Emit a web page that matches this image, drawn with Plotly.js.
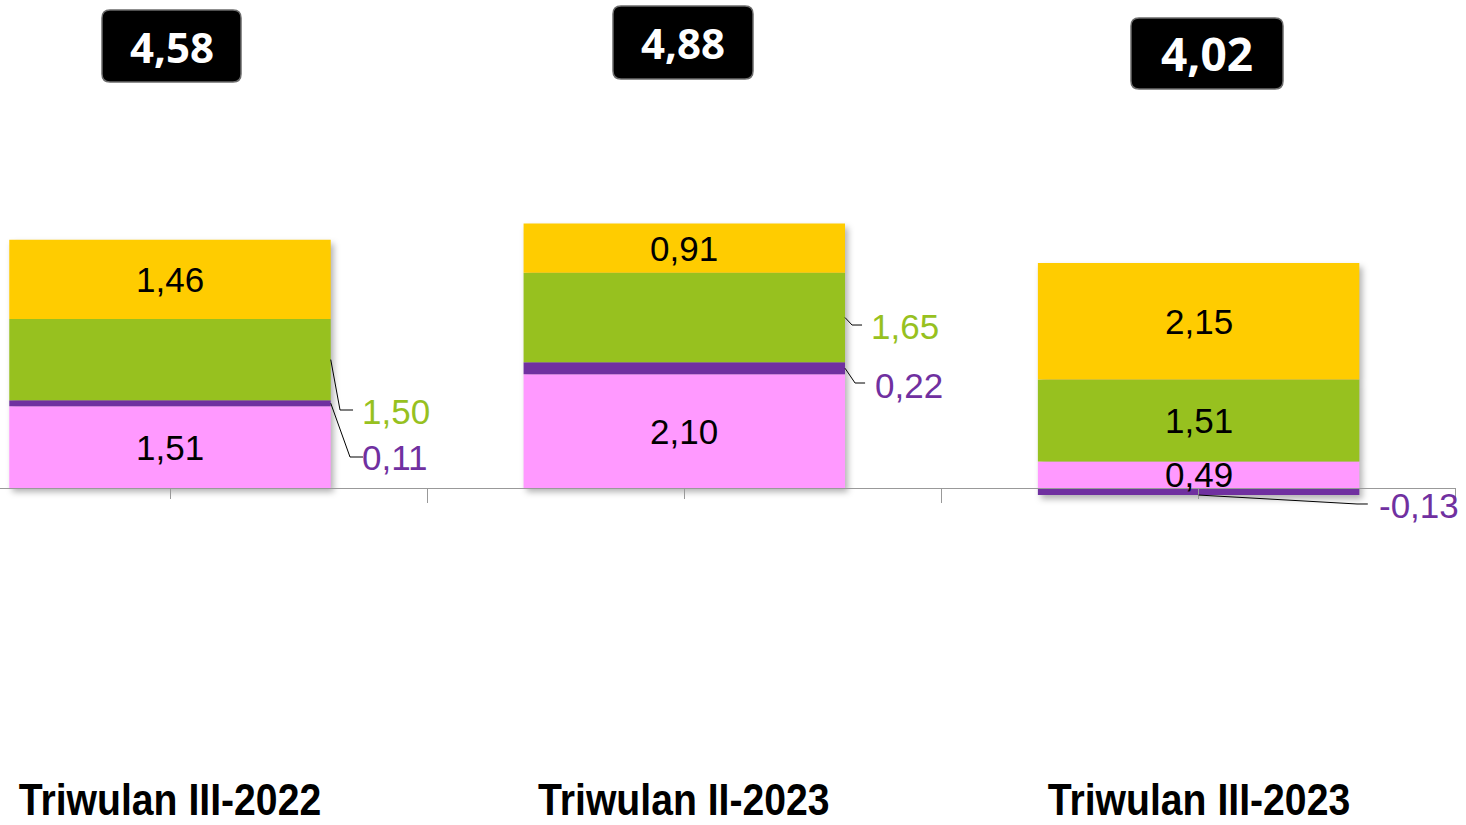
<!DOCTYPE html>
<html>
<head>
<meta charset="utf-8">
<script src="https://cdn.plot.ly/plotly-3.0.1.min.js"></script>
<style>
  html, body { margin: 0; padding: 0; background: #fff; }
  #chart { width: 1466px; height: 825px; }
  .barlayer { filter: drop-shadow(3px 4px 3px rgba(0,0,0,0.30)); }
</style>
</head>
<body>
<div id="chart"></div>
<script>
// ---- data ----
const categories = ["Triwulan III-2022", "Triwulan II-2023", "Triwulan III-2023"];
const pinkValues   = [1.51, 2.10, 0.49];
const purpleValues = [0.11, 0.22, -0.13];
const greenValues  = [1.50, 1.65, 1.51];
const yellowValues = [1.46, 0.91, 2.15];
const totals       = [4.58, 4.88, 4.02];

// ---- styling ----
const COL_PINK = "#FF99FF", COL_PURPLE = "#7030A0", COL_GREEN = "#97C11F", COL_YELLOW = "#FFCC00";
const W = 1466, H = 825, MR = 10, PW = W - MR;
const ZERO_PX = 488, PX_PER_UNIT = 54.2, CAT0_PX = 170, PX_PER_CAT = 514.3;
const yTop = ZERO_PX / PX_PER_UNIT, yBot = -(H - ZERO_PX) / PX_PER_UNIT;
const xLeft = -CAT0_PX / PX_PER_CAT, xRight = (PW - CAT0_PX) / PX_PER_CAT;
const BAR_W = 0.625;
const fmt = v => v.toFixed(2).replace('.', ',');
const xs = categories.map((c, i) => i);

const series = [
  {name: "pink", vals: pinkValues, color: COL_PINK},
  {name: "purple", vals: purpleValues, color: COL_PURPLE},
  {name: "green", vals: greenValues, color: COL_GREEN},
  {name: "yellow", vals: yellowValues, color: COL_YELLOW}
];

const traces = series.map(s => ({
  type: "bar", x: xs, y: s.vals, name: s.name, width: BAR_W,
  marker: {color: s.color, line: {width: 0}}, hoverinfo: "skip"
}));

// stacked midpoints (relative mode: positives stack upward, negatives downward)
const mids = series.map(() => []);
const bottoms = series.map(() => []);
xs.forEach(i => {
  let pos = 0, neg = 0;
  series.forEach((s, k) => {
    const v = s.vals[i];
    if (v >= 0) { mids[k][i] = pos + v / 2; bottoms[k][i] = pos; pos += v; }
    else { mids[k][i] = neg + v / 2; bottoms[k][i] = neg + v; neg += v; }
  });
});

const annotations = [];
const shapes = [];
const insideFont = {family: "Liberation Sans, Arial, sans-serif", size: 35, color: "#000"};
// outside (leader-line) labels: [seriesIndex, category, labelX, labelY, elbowX, elbowY, endX]
const outsideLabels = [
  [2, 0, 0.369, 1.42, 0.3306, 1.439, 0.3559],
  [1, 0, 0.369, 0.554, 0.3500, 0.572, 0.3753],
  [2, 1, 1.359, 2.989, 1.3262, 3.007, 1.3456],
  [1, 1, 1.367, 1.900, 1.3320, 1.937, 1.3515],
  [1, 2, 2.346, -0.314, 2.3080, -0.295, 2.3290]
];
const outsideSet = new Set(outsideLabels.map(o => o[0] + "_" + o[1]));

series.forEach((s, k) => {
  xs.forEach(i => {
    if (outsideSet.has(k + "_" + i)) return;
    annotations.push({x: i, y: mids[k][i], xref: "x", yref: "y", text: fmt(s.vals[i]),
      showarrow: false, font: insideFont, xanchor: "center", yanchor: "middle"});
  });
});

outsideLabels.forEach(([k, i, lx, ly, ex, ey, endx]) => {
  const s = series[k];
  const v = s.vals[i];
  const sx = v >= 0 ? i + BAR_W / 2 : i;
  const sy = v >= 0 ? mids[k][i] : bottoms[k][i];
  shapes.push({type: "path", xref: "x", yref: "y",
    path: `M ${sx} ${sy} L ${ex} ${ey} L ${endx} ${ey}`,
    line: {color: "#000", width: 1}, layer: "above"});
  annotations.push({x: lx, y: ly, xref: "x", yref: "y", text: fmt(v), showarrow: false,
    font: {family: "Liberation Sans, Arial, sans-serif", size: 35, color: s.color},
    xanchor: "left", yanchor: "middle"});
});

// total label boxes (pixel boxes -> paper coords), rounded
const totalBoxes = [[102, 10, 241, 82, 42], [613, 6, 753, 79, 42], [1131, 18, 1283, 89, 46]];
const px2x = p => p / PW, py2y = p => 1 - p / H;
totalBoxes.forEach(([x0, y0, x1, y1, fs], i) => {
  const r = 8;
  const P = (x, y) => `${px2x(x)},${py2y(y)}`;
  const path = `M ${P(x0 + r, y0)} L ${P(x1 - r, y0)} Q ${P(x1, y0)} ${P(x1, y0 + r)} L ${P(x1, y1 - r)} Q ${P(x1, y1)} ${P(x1 - r, y1)} L ${P(x0 + r, y1)} Q ${P(x0, y1)} ${P(x0, y1 - r)} L ${P(x0, y0 + r)} Q ${P(x0, y0)} ${P(x0 + r, y0)} Z`;
  shapes.push({type: "path", xref: "paper", yref: "paper", path: path,
    fillcolor: "#000", line: {color: "#6b6b6b", width: 1.5}, layer: "above"});
  annotations.push({xref: "paper", yref: "paper", x: px2x((x0 + x1) / 2), y: py2y((y0 + y1) / 2),
    text: "<b>" + fmt(totals[i]) + "</b>", showarrow: false, xanchor: "center", yanchor: "middle",
    font: {family: "Open Sans, sans-serif", size: fs, color: "#fff"}});
});

// category labels (bold, condensed) below the chart
categories.forEach((c, i) => {
  annotations.push({x: i, xref: "x", yref: "paper", y: py2y(799), text: "<b>" + c + "</b>",
    showarrow: false, xanchor: "center", yanchor: "middle",
    font: {family: "Liberation Sans, Arial, sans-serif", size: 44, color: "#000"}});
});

const layout = {
  width: W, height: H,
  margin: {l: 0, r: MR, t: 0, b: 0, pad: 0},
  paper_bgcolor: "#fff", plot_bgcolor: "#fff",
  barmode: "relative", showlegend: false,
  xaxis: {
    type: "linear", range: [xLeft, xRight], fixedrange: true,
    tickvals: xs, showticklabels: false,
    ticks: "outside", ticklen: 10, tickcolor: "#999", tickwidth: 1,
    showline: true, linecolor: "#999", linewidth: 1,
    showgrid: false, zeroline: false,
    anchor: "free", position: (H - ZERO_PX) / H,
    minor: {tick0: 0.5, dtick: 1, ticks: "outside", ticklen: 14, tickcolor: "#999", tickwidth: 1, showgrid: false}
  },
  yaxis: {range: [yBot, yTop], visible: false, fixedrange: true},
  annotations: annotations,
  shapes: shapes
};

Plotly.newPlot("chart", traces, layout, {displayModeBar: false, staticPlot: true}).then(gd => {
  // condense the category labels horizontally (narrow bold look)
  const CONDENSE = 0.89;
  document.querySelectorAll("#chart .annotation-text").forEach(t => {
    if (categories.includes(t.textContent)) {
      const len = t.getComputedTextLength();
      t.setAttribute("textLength", (len * CONDENSE).toFixed(1));
      t.setAttribute("lengthAdjust", "spacingAndGlyphs");
    }
  });
});
</script>
</body>
</html>
